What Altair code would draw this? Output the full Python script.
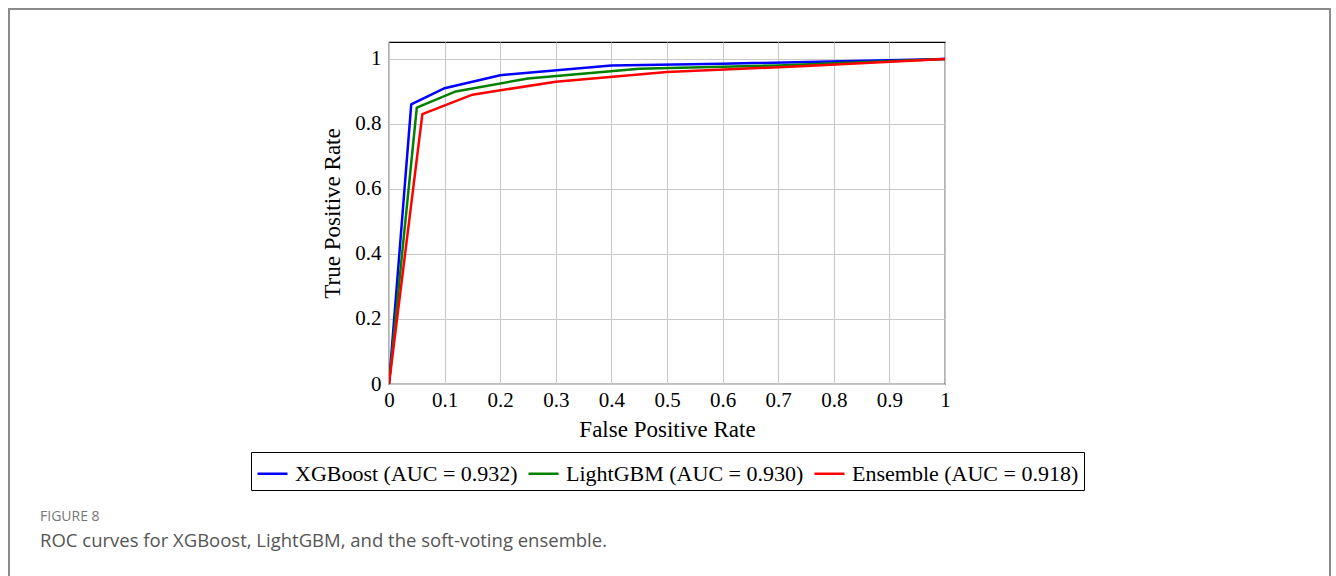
import altair as alt
import pandas as pd

models = ["XGBoost (AUC = 0.932)", "LightGBM (AUC = 0.930)", "Ensemble (AUC = 0.918)"]
colors = ["#0000ff", "#008000", "#ff0000"]

xgb_fpr = [0.0, 0.04, 0.10, 0.20, 0.40, 0.60, 1.0]
xgb_tpr = [0.0, 0.86, 0.91, 0.95, 0.98, 0.985, 1.0]
lgb_fpr = [0.0, 0.05, 0.12, 0.25, 0.45, 0.70, 1.0]
lgb_tpr = [0.0, 0.85, 0.90, 0.94, 0.97, 0.98, 1.0]
ens_fpr = [0.0, 0.06, 0.15, 0.30, 0.50, 0.75, 1.0]
ens_tpr = [0.0, 0.83, 0.89, 0.93, 0.96, 0.978, 1.0]

x_ticks = [0, 0.1, 0.2, 0.3, 0.4, 0.5, 0.6, 0.7, 0.8, 0.9, 1]
y_ticks = [0, 0.2, 0.4, 0.6, 0.8, 1]

rows = []
for name, fx, fy in zip(models, [xgb_fpr, lgb_fpr, ens_fpr], [xgb_tpr, lgb_tpr, ens_tpr]):
    for i, (a, b) in enumerate(zip(fx, fy)):
        rows.append({"model": name, "fpr": a, "tpr": b, "order": i})
df = pd.DataFrame(rows)

serif = "Liberation Serif"

lines = alt.Chart(df).mark_line(strokeWidth=2.5, clip=True).encode(
    x=alt.X("fpr:Q", scale=alt.Scale(domain=[0, 1], nice=False),
            axis=alt.Axis(values=x_ticks, format="~g", title="False Positive Rate",
                          grid=True, ticks=False, domain=False, labelPadding=5,
                          labelFlush=False, titlePadding=8)),
    y=alt.Y("tpr:Q", scale=alt.Scale(domain=[0, 1.052], nice=False),
            axis=alt.Axis(values=y_ticks, format="~g", title="True Positive Rate",
                          grid=True, ticks=False, domain=False, labelPadding=8,
                          labelFlush=False, titlePadding=10)),
    color=alt.Color("model:N", scale=alt.Scale(domain=models, range=colors),
                    legend=alt.Legend(title=None, orient="none", legendX=-138, legendY=410,
                                      direction="horizontal", columns=3,
                                      symbolType="stroke", symbolSize=900,
                                      symbolStrokeWidth=2.5, labelFont=serif,
                                      labelFontSize=22, labelColor="#000",
                                      strokeColor="#000", padding=5,
                                      columnPadding=5, labelOffset=6,
                                      labelLimit=400)),
    order="order:Q",
)

frame = alt.Chart(pd.DataFrame({"a": [0]})).mark_rect(
    fill=None, stroke="#8a8a8a", strokeWidth=2
).encode(x=alt.value(-380), x2=alt.value(941), y=alt.value(-33), y2=alt.value(700))

cap1 = alt.Chart(pd.DataFrame({"t": ["FIGURE 8"]})).mark_text(
    align="left", baseline="middle", font="Open Sans", fontSize=14, color="#777"
).encode(text="t:N", x=alt.value(-349), y=alt.value(475))

cap2 = alt.Chart(pd.DataFrame({"t": ["ROC curves for XGBoost, LightGBM, and the soft-voting ensemble."]})).mark_text(
    align="left", baseline="middle", font="Open Sans", fontSize=18.5, color="#555"
).encode(text="t:N", x=alt.value(-349), y=alt.value(499))

chart = alt.layer(frame, lines, cap1, cap2).properties(
    width=556, height=342,
    autosize=alt.AutoSizeParams(type="none"),
    padding={"left": 389, "top": 42, "right": 391, "bottom": 192},
).configure_view(stroke="#000", strokeWidth=1.2).configure_axis(
    labelFont=serif, titleFont=serif, labelFontSize=21, titleFontSize=23,
    labelColor="#000", titleColor="#000", titleFontWeight="normal",
    gridColor="#c8c8c8", gridWidth=1
)

chart.save("out.html", embed_options={"renderer": "svg", "actions": False})
